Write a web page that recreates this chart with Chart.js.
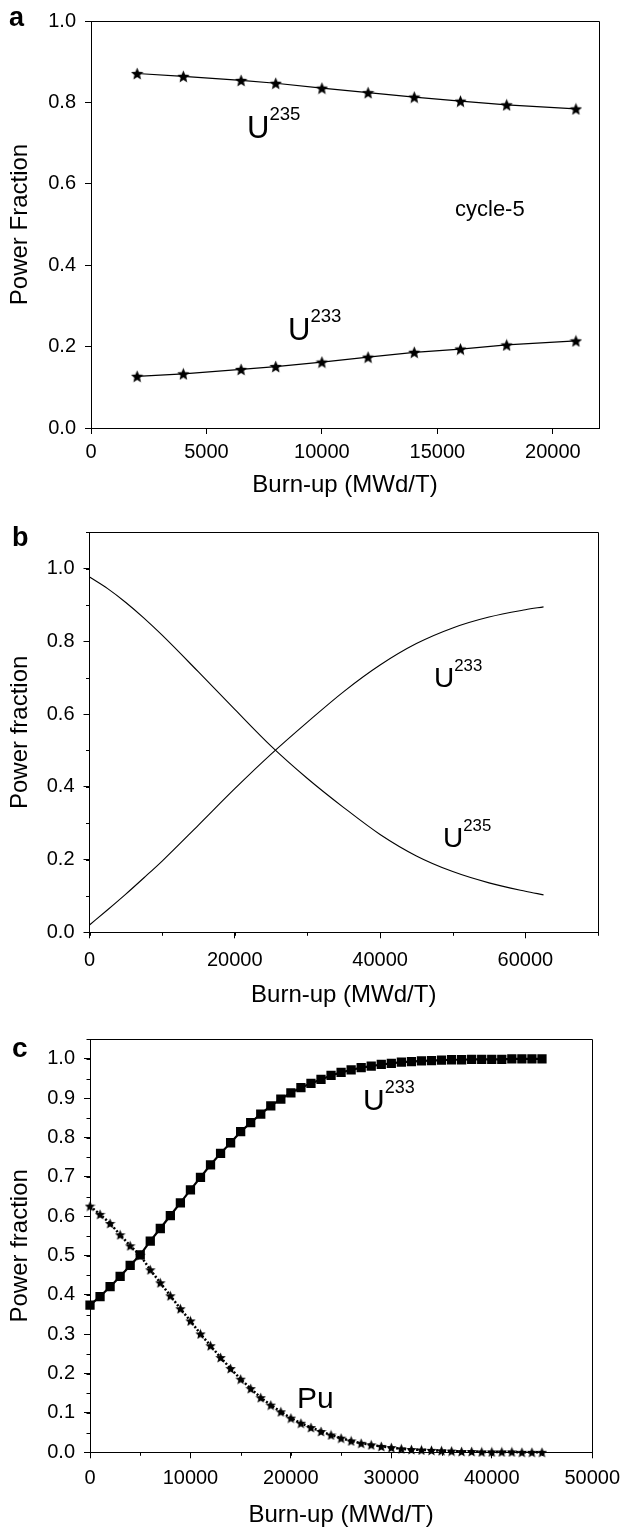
<!DOCTYPE html>
<html>
<head>
<meta charset="utf-8">
<script src="https://cdn.jsdelivr.net/npm/chart.js@4.4.1/dist/chart.umd.min.js"></script>
<style>
  body { margin: 0; background: #fff; width: 628px; height: 1530px; position: relative; overflow: hidden; }
  canvas { position: absolute; left: 0; }
  .lbl { position: absolute; line-height: 1; white-space: nowrap; color: #000;
         font-family: "Liberation Sans", Arial, Helvetica, sans-serif; }
  .lbl span { font-size: 0.6em; position: relative; top: -0.95em; }
</style>
</head>
<body>
<canvas id="chartA" width="628" height="510" style="top:0px"></canvas>
<canvas id="chartB" width="628" height="515" style="top:510px"></canvas>
<canvas id="chartC" width="628" height="520" style="top:1010px"></canvas>

<script>
// ---- data ----
// panel a : cycle-5
const burnupA = [2000, 4000, 6500, 8000, 10000, 12000, 14000, 16000, 18000, 21000];
const u235A = [0.871, 0.864, 0.854, 0.847, 0.835, 0.824, 0.813, 0.803, 0.794, 0.784];
const u233A = [0.127, 0.133, 0.144, 0.151, 0.162, 0.174, 0.186, 0.194, 0.204, 0.214];

// panel b
const burnupB = [0, 2500, 5000, 7500, 10000, 15000, 20000, 25000, 30000, 35000, 40000, 45000, 50000, 55000, 60000, 62500];
const u235B = [0.977, 0.945, 0.907, 0.864, 0.817, 0.716, 0.613, 0.512, 0.423, 0.343, 0.269, 0.210, 0.167, 0.136, 0.113, 0.103];
const u233B = [0.020, 0.062, 0.105, 0.150, 0.196, 0.295, 0.395, 0.490, 0.578, 0.662, 0.735, 0.794, 0.837, 0.867, 0.887, 0.895];

// panel c
const burnupC = [
  0, 1000, 2000, 3000, 4000, 5000, 6000, 7000, 8000, 9000,
  10000, 11000, 12000, 13000, 14000, 15000, 16000, 17000, 18000, 19000,
  20000, 21000, 22000, 23000, 24000, 25000, 26000, 27000, 28000, 29000,
  30000, 31000, 32000, 33000, 34000, 35000, 36000, 37000, 38000, 39000,
  40000, 41000, 42000, 43000, 44000, 45000
];
const u233C = [
  0.374, 0.396, 0.421, 0.447, 0.475, 0.502, 0.537, 0.569, 0.602, 0.634,
  0.667, 0.699, 0.731, 0.760, 0.787, 0.815, 0.838, 0.860, 0.881, 0.898,
  0.914, 0.927, 0.938, 0.948, 0.958, 0.966, 0.972, 0.978, 0.982, 0.986,
  0.989, 0.992, 0.993, 0.995, 0.996, 0.997, 0.998, 0.998, 0.999, 0.999,
  0.999, 0.999, 1.000, 1.000, 1.000, 1.000
];
const puC = [
  0.626, 0.605, 0.582, 0.553, 0.525, 0.501, 0.464, 0.431, 0.398, 0.365,
  0.334, 0.301, 0.271, 0.241, 0.213, 0.186, 0.162, 0.139, 0.120, 0.103,
  0.087, 0.074, 0.063, 0.053, 0.044, 0.036, 0.029, 0.023, 0.019, 0.015,
  0.012, 0.009, 0.007, 0.006, 0.005, 0.004, 0.003, 0.002, 0.002, 0.001,
  0.001, 0.001, 0.001, 0.000, 0.000, 0.000
];

// axis ranges [min, max, major step, minor step]
const xAxisA = [0, 22000, 5000, 0];
const yAxisA = [0, 1.0, 0.2, 0];
const xAxisB = [0, 70000, 20000, 10000];
const yAxisB = [0, 1.1, 0.2, 0.1];
const xAxisC = [0, 50000, 10000, 5000];
const yAxisC = [0, 1.05, 0.1, 0.05];

const FONT = '"Liberation Sans", Arial, Helvetica, sans-serif';
Chart.defaults.font.family = FONT;
Chart.defaults.color = "#000";

// filled five-point star used as point marker
function starMarker(size) {
  const c = document.createElement("canvas");
  c.width = c.height = size;
  const ctx = c.getContext("2d");
  const r = size / 2;
  const cy = r + 0.095 * r;
  ctx.beginPath();
  for (let i = 0; i < 10; i++) {
    const rad = i % 2 ? r * 0.45 : r;
    const a = -Math.PI / 2 + (i * Math.PI) / 5;
    ctx.lineTo(r + rad * Math.cos(a), cy + rad * Math.sin(a));
  }
  ctx.closePath();
  ctx.fillStyle = "#000";
  ctx.fill();
  return c;
}

// top + right sides of the box
const framePlugin = {
  id: "frame",
  afterDraw(chart) {
    const { ctx, chartArea: a } = chart;
    ctx.save();
    ctx.strokeStyle = "#000";
    ctx.lineWidth = 1;
    ctx.beginPath();
    ctx.moveTo(Math.round(a.left), Math.round(a.top) + 0.5);
    ctx.lineTo(Math.round(a.right) + 0.5, Math.round(a.top) + 0.5);
    ctx.lineTo(Math.round(a.right) + 0.5, Math.round(a.bottom));
    ctx.stroke();
    ctx.restore();
  },
};

// short minor ticks outside the axes
const minorTickPlugin = {
  id: "minorTicks",
  afterDraw(chart, args, opts) {
    const { ctx } = chart;
    ctx.save();
    ctx.strokeStyle = "#000";
    ctx.lineWidth = 1;
    ctx.beginPath();
    ["x", "y"].forEach((id) => {
      const step = opts[id];
      if (!step) return;
      const s = chart.scales[id];
      const n = Math.round((s.max - s.min) / step);
      for (let i = 0; i <= n; i++) {
        const p = Math.round(s.getPixelForValue(s.min + i * step)) + 0.5;
        if (id === "x") {
          ctx.moveTo(p, s.top);
          ctx.lineTo(p, s.top + 3.5);
        } else {
          ctx.moveTo(s.right, p);
          ctx.lineTo(s.right - 3.5, p);
        }
      }
    });
    ctx.stroke();
    ctx.restore();
  },
};

function pts(xs, ys) {
  return xs.map((x, i) => ({ x: x, y: ys[i] }));
}

// major ticks at every step from min, never the odd max
function majorTicks(range) {
  return (s) => {
    const out = [];
    for (let i = 0; range[0] + i * range[2] <= range[1] + 1e-9; i++) {
      out.push({ value: +(range[0] + i * range[2]).toFixed(6) });
    }
    s.ticks = out;
  };
}

function buildChart(id, p) {
  const canvas = document.getElementById(id);
  const H = canvas.height;
  const lh = 24 * 1.2;
  new Chart(canvas, {
    type: "line",
    data: { datasets: p.datasets },
    options: {
      responsive: false,
      animation: false,
      events: [],
      layout: { padding: { left: 0, top: p.top, right: 628 - p.right, bottom: 0 } },
      plugins: {
        legend: { display: false },
        tooltip: { enabled: false },
        minorTicks: { x: p.xAxis[3], y: p.yAxis[3] },
      },
      scales: {
        x: {
          type: "linear",
          min: p.xAxis[0],
          max: p.xAxis[1],
          afterBuildTicks: majorTicks(p.xAxis),
          afterFit: (s) => { s.height = H - p.bottom; },
          ticks: {
            autoSkip: false,
            maxRotation: 0,
            padding: p.xTickPad,
            font: { size: 20 },
            callback: (v) => String(v),
          },
          grid: { drawOnChartArea: false, tickLength: 6, tickColor: "#000" },
          border: { color: "#000", width: 1 },
          title: {
            display: true,
            text: "Burn-up (MWd/T)",
            font: { size: 24 },
            padding: { top: 0, bottom: H - p.xTitleMid - lh / 2 },
          },
        },
        y: {
          type: "linear",
          min: p.yAxis[0],
          max: p.yAxis[1],
          afterBuildTicks: majorTicks(p.yAxis),
          afterFit: (s) => { s.width = p.left; },
          ticks: {
            autoSkip: false,
            padding: 9,
            font: { size: 20 },
            callback: (v) => v.toFixed(1),
          },
          grid: { drawOnChartArea: false, tickLength: 6, tickColor: "#000" },
          border: { color: "#000", width: 1 },
          title: {
            display: true,
            text: p.yTitle,
            font: { size: 24 },
            padding: { top: 20.5 - lh / 2, bottom: 0 },
          },
        },
      },
    },
    plugins: [framePlugin, minorTickPlugin],
  });
}

function series(data, extra) {
  return Object.assign(
    {
      data: data,
      borderColor: "#000",
      backgroundColor: "#000",
      borderWidth: 1.2,
      pointRadius: 0,
      tension: 0,
      clip: false,
    },
    extra
  );
}

const starA = starMarker(13);
const starC = starMarker(11);

buildChart("chartA", {
  left: 91, right: 599, top: 20, bottom: 428,
  xTickPad: 6, xTitleMid: 485,
  xAxis: xAxisA, yAxis: yAxisA, yTitle: "Power Fraction",
  datasets: [
    series(pts(burnupA, u235A), { pointStyle: starA, pointRadius: 6 }),
    series(pts(burnupA, u233A), { pointStyle: starA, pointRadius: 6 }),
  ],
});

buildChart("chartB", {
  left: 89.5, right: 598, top: 22.3, bottom: 422.3,
  xTickPad: 10, xTitleMid: 485,
  xAxis: xAxisB, yAxis: yAxisB, yTitle: "Power fraction",
  datasets: [
    series(pts(burnupB, u235B), { borderWidth: 1.1, cubicInterpolationMode: "monotone" }),
    series(pts(burnupB, u233B), { borderWidth: 1.1, cubicInterpolationMode: "monotone" }),
  ],
});

buildChart("chartC", {
  left: 90, right: 599, top: 29.3, bottom: 442.3,
  xTickPad: 8, xTitleMid: 505,
  xAxis: xAxisC, yAxis: yAxisC, yTitle: "Power fraction",
  datasets: [
    series(pts(burnupC, u233C), { borderWidth: 2.2, pointStyle: "rect", pointRadius: 5 }),
    series(pts(burnupC, puC), { borderWidth: 2.5, borderDash: [2, 2], pointStyle: starC, pointRadius: 5 }),
  ],
});

// ---- text annotations ----
function placeLabel(html, left, baseline, size, bold) {
  const d = document.createElement("div");
  d.className = "lbl";
  d.innerHTML = html;
  d.style.left = left + "px";
  d.style.top = baseline - 0.8465 * size + "px";
  d.style.fontSize = size + "px";
  if (bold) d.style.fontWeight = "bold";
  document.body.appendChild(d);
}

placeLabel("a", 9, 27, 27, true);
placeLabel("U<span>235</span>", 247, 138, 31);
placeLabel("cycle-5", 455, 217, 22);
placeLabel("U<span>233</span>", 288, 340, 31);

placeLabel("b", 12, 547, 27, true);
placeLabel("U<span>233</span>", 434, 688, 28);
placeLabel("U<span>235</span>", 443, 848, 28);

placeLabel("c", 12, 1058, 28, true);
placeLabel("U<span>233</span>", 363, 1110, 30);
placeLabel("Pu", 297, 1408, 30);
</script>
</body>
</html>
